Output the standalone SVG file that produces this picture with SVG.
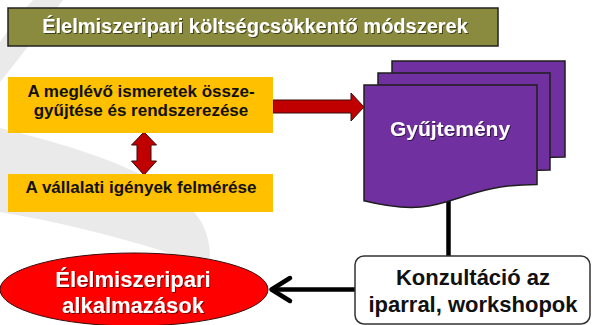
<svg xmlns="http://www.w3.org/2000/svg" width="592" height="325" viewBox="0 0 592 325">
  <defs>
    <style>
      .t { font-family: "Liberation Sans", Arial, sans-serif; font-weight: bold; text-anchor: middle; }
      .w { fill: #ffffff; filter: url(#sh); }
      .k { fill: #111111; }
      .yel { fill: #FFC000; }
      .doc { fill: #7030A0; stroke: #1e1e1e; stroke-width: 1.5; }
      .red { fill: #C00000; stroke: #3a0a0a; stroke-width: 1; }
      .conn { stroke: #000; stroke-width: 4.5; fill: none; }
      .bg { fill: #EAEAEA; }
    </style>
    <filter id="sh" x="-10%" y="-30%" width="120%" height="160%">
      <feDropShadow dx="1" dy="1" stdDeviation="0.6" flood-color="#000" flood-opacity="0.55"/>
    </filter>
  </defs>

  <rect width="592" height="325" fill="#ffffff"/>
  <g id="background">
    <path class="bg" d="M33,0 L63,0 Q30,45 0,82 L0,42 Q15,20 33,0 Z"/>
    <path class="bg" d="M0,128 C90,150 180,180 203,225 C212,245 212,265 205,290 L190,290 C192,270 185,258 160,250 C110,235 60,222 0,212 Z"/>
  </g>

  <g id="title">
    <rect x="8" y="8" width="490" height="38" fill="#8A8B3E" stroke="#222" stroke-width="1.5"/>
    <text class="t w" x="255" y="33" font-size="20">Élelmiszeripari költségcsökkentő módszerek</text>
  </g>

  <g id="connectors">
    <path class="red" d="M273,100 H351 V93 L364,107 L351,121 V113 H273 Z"/>
    <path class="red" d="M144,132 L156.5,145 H151 V161 H156.5 L144,175 L131.5,161 H137 V145 H131.5 Z"/>
    <line class="conn" x1="448.5" y1="199" x2="448.5" y2="257"/>
    <line class="conn" x1="355" y1="289.5" x2="273" y2="289.5"/>
    <polyline class="conn" points="290,278 271.5,289.5 290,301" stroke-linecap="round" stroke-linejoin="round"/>
  </g>

  <g id="node-meglevo">
    <rect class="yel" x="8" y="77" width="265" height="56"/>
    <text class="t k" x="141" y="97" font-size="17">A meglévő ismeretek össze-</text>
    <text class="t k" x="141" y="116" font-size="17">gyűjtése és rendszerezése</text>
  </g>

  <g id="node-igenyek">
    <rect class="yel" x="8" y="174" width="265" height="38"/>
    <text class="t k" x="141" y="193" font-size="17">A vállalati igények felmérése</text>
  </g>

  <g id="node-gyujtemeny">
    <path class="doc" d="M392,61 H565 V157 C478.5,157 478.5,194 392,174 Z"/>
    <path class="doc" d="M378,73 H550 V170 C464,170 464,207 378,186 Z"/>
    <path class="doc" d="M364,85 H537 V184.4 C450.5,184.4 450.5,222.3 364,200.8 Z"/>
    <text class="t w" x="450" y="136" font-size="21">Gyűjtemény</text>
  </g>

  <g id="node-konzultacio">
    <rect x="355" y="256" width="235" height="68" rx="9" ry="9" fill="#ffffff" stroke="#333" stroke-width="1.5"/>
    <text class="t k" x="473" y="285" font-size="22">Konzultáció az</text>
    <text class="t k" x="473" y="312" font-size="22">iparral, workshopok</text>
  </g>

  <g id="node-alkalmazasok">
    <ellipse cx="134" cy="289.5" rx="134" ry="36.5" fill="#FF0000" stroke="#3a0a0a" stroke-width="1"/>
    <text class="t w" x="133" y="287" font-size="22">Élelmiszeripari</text>
    <text class="t w" x="133" y="313" font-size="22">alkalmazások</text>
  </g>
</svg>
